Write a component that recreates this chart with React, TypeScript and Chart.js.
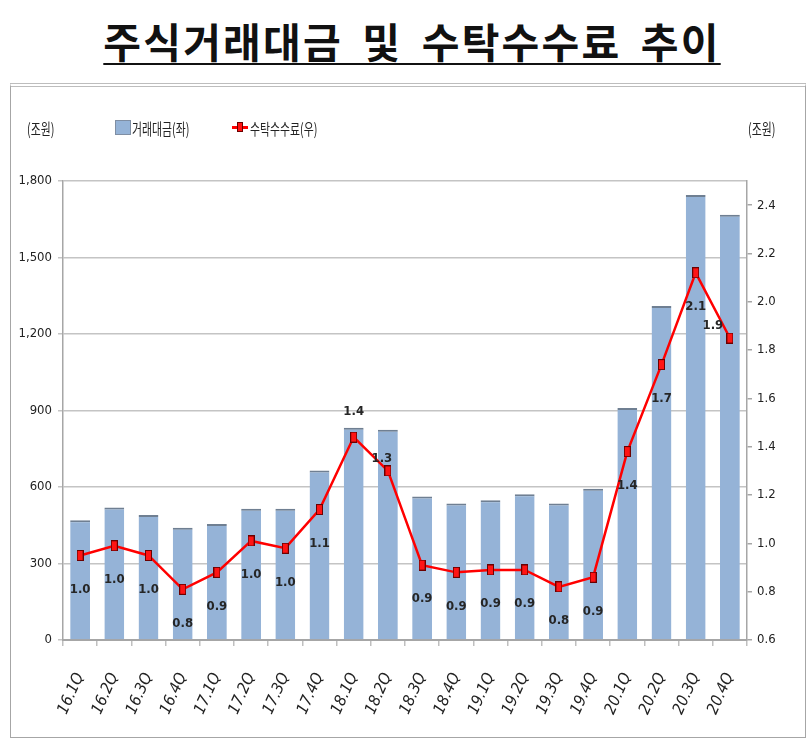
import React, { useEffect, useRef } from "react";
import { Chart, registerables } from "chart.js";

Chart.register(...registerables);

const CATEGORIES = [
  "16.1Q", "16.2Q", "16.3Q", "16.4Q", "17.1Q", "17.2Q", "17.3Q", "17.4Q",
  "18.1Q", "18.2Q", "18.3Q", "18.4Q", "19.1Q", "19.2Q", "19.3Q", "19.4Q",
  "20.1Q", "20.2Q", "20.3Q", "20.4Q",
];
const TRADING_VALUE = [
  470, 520, 490, 440, 455, 515, 515, 665, 832, 825,
  563, 535, 548, 572, 535, 593, 910, 1310, 1745, 1668,
];
const COMMISSION = [
  0.95, 0.99, 0.95, 0.81, 0.88, 1.01, 0.98, 1.14, 1.44, 1.3,
  0.91, 0.88, 0.89, 0.89, 0.82, 0.86, 1.38, 1.74, 2.12, 1.85,
];
const LEFT_TICKS = [0, 300, 600, 900, 1200, 1500, 1800];
const RIGHT_TICKS = [0.6, 0.8, 1.0, 1.2, 1.4, 1.6, 1.8, 2.0, 2.2, 2.4];

const TITLE = "주식거래대금 및 수탁수수료 추이";
const BAR_LABEL = "거래대금(좌)";
const LINE_LABEL = "수탁수수료(우)";
const UNIT = "(조원)";

const FONT = "'DejaVu Sans Condensed', 'Liberation Sans', 'Noto Sans CJK KR', sans-serif";
const KFONT = "'Noto Sans CJK KR', sans-serif";

// label offsets (dx, dy) relative to each line point
const LABEL_OFFSETS: Record<number, [number, number]> = {
  8: [0, -25],
  9: [-6, -12],
  19: [-17, -12],
};

function makeMarker(): HTMLCanvasElement {
  const c = document.createElement("canvas");
  c.width = 7;
  c.height = 11;
  const ctx = c.getContext("2d")!;
  ctx.fillStyle = "#6b0000";
  ctx.fillRect(0, 0, 7, 11);
  ctx.fillStyle = "#ff1414";
  ctx.fillRect(1, 1, 5, 9);
  return c;
}

const labelPlugin = {
  id: "lineLabels",
  afterDatasetsDraw(chart: any) {
    const meta = chart.getDatasetMeta(1);
    const ctx = chart.ctx;
    ctx.save();
    ctx.font = `bold 13px ${FONT}`;
    ctx.fillStyle = "#262626";
    ctx.textAlign = "center";
    ctx.textBaseline = "middle";
    meta.data.forEach((el: any, i: number) => {
      const v = COMMISSION[i];
      const txt = (Math.round(v * 10) / 10).toFixed(1);
      const off = LABEL_OFFSETS[i] || [0, 34];
      ctx.fillText(txt, el.x + off[0], el.y + off[1]);
    });
    ctx.restore();
  },
};

export default function App() {
  const ref = useRef<HTMLCanvasElement | null>(null);

  useEffect(() => {
    if (!ref.current) return;
    const marker = makeMarker();
    const chart = new Chart(ref.current, {
      type: "bar",
      data: {
        labels: CATEGORIES,
        datasets: [
          {
            type: "bar",
            label: BAR_LABEL,
            data: TRADING_VALUE,
            backgroundColor: "#95b3d7",
            borderColor: "#6f7f92",
            borderWidth: { top: 2, left: 0, right: 0, bottom: 0 },
            borderSkipped: false,
            categoryPercentage: 1,
            barPercentage: 0.58,
            yAxisID: "y",
            order: 1,
          },
          {
            type: "line",
            label: LINE_LABEL,
            data: COMMISSION,
            borderColor: "#ff0000",
            borderWidth: 2.5,
            pointStyle: marker,
            pointRadius: 5,
            tension: 0,
            yAxisID: "y1",
            order: 0,
          },
        ],
      },
      options: {
        responsive: false,
        devicePixelRatio: 1,
        animation: false,
        layout: { padding: { top: 95, left: 0, right: 0, bottom: 0 } },
        plugins: {
          legend: { display: false },
          tooltip: { enabled: false },
          title: { display: false },
        },
        scales: {
          x: {
            grid: {
              offset: true,
              drawOnChartArea: false,
              drawTicks: true,
              tickLength: 6,
              color: "#bfbfbf",
              lineWidth: 1.5,
            },
            border: { color: "#a6a6a6", width: 2 },
            ticks: {
              autoSkip: false,
              minRotation: 66,
              maxRotation: 66,
              padding: 24,
              color: "#222",
              font: { family: FONT, size: 16, style: "italic" },
            },
            afterFit: (s: any) => {
              s.height = 94;
            },
          },
          y: {
            position: "left",
            min: 0,
            max: 1800,
            afterBuildTicks: (s: any) => {
              s.ticks = LEFT_TICKS.map((v) => ({ value: v }));
            },
            grid: { color: "#c4c4c4", lineWidth: 1.5, tickLength: 5 },
            border: { color: "#a6a6a6", width: 1.5 },
            ticks: {
              padding: 6,
              color: "#222",
              font: { family: FONT, size: 13 },
              callback: (v: any) => Number(v).toLocaleString("en-US"),
            },
            afterFit: (s: any) => {
              s.width = 51;
            },
          },
          y1: {
            position: "right",
            min: 0.6,
            max: 2.5,
            afterBuildTicks: (s: any) => {
              s.ticks = RIGHT_TICKS.map((v) => ({ value: v }));
            },
            grid: { drawOnChartArea: false, color: "#a6a6a6", lineWidth: 1.5, tickLength: 5 },
            border: { color: "#a6a6a6", width: 1.5 },
            ticks: {
              padding: 5,
              color: "#222",
              font: { family: FONT, size: 13 },
              callback: (v: any) => Number(v).toFixed(1),
            },
            afterFit: (s: any) => {
              s.width = 57;
            },
          },
        },
      },
      plugins: [labelPlugin],
    } as any);
    return () => chart.destroy();
  }, []);

  const unitStyle: React.CSSProperties = {
    position: "absolute",
    top: 117,
    fontFamily: KFONT,
    fontSize: 16,
    color: "#222",
    transform: "scaleX(0.68)",
    transformOrigin: "left center",
    whiteSpace: "nowrap",
    lineHeight: "22px",
  };

  return (
    <div
      style={{
        position: "absolute",
        left: 0,
        top: 0,
        width: 808,
        height: 738,
        background: "#fff",
        overflow: "hidden",
      }}
    >
      <div
        style={{
          position: "absolute",
          left: 8,
          top: 12,
          width: 808,
          textAlign: "center",
          fontFamily: KFONT,
          fontWeight: 700,
          fontSize: 41,
          lineHeight: "56px",
          color: "#111",
          letterSpacing: 2.2,
          wordSpacing: 8,
        }}
      >
        <span
          style={{
            textDecoration: "underline",
            textDecorationThickness: "2px",
            textUnderlineOffset: "5px",
          }}
        >
          {TITLE}
        </span>
      </div>
      <div
        style={{
          position: "absolute",
          left: 10,
          top: 83,
          width: 794,
          height: 650,
          borderLeft: "1.5px solid #a6a6a6",
          borderRight: "1.5px solid #a6a6a6",
          borderBottom: "2px solid #a6a6a6",
          borderTop: "4px double #bdbdbd",
        }}
      />
      <canvas
        ref={ref}
        width={792}
        height={648}
        style={{ position: "absolute", left: 12, top: 86, width: 792, height: 648 }}
      />
      <span style={{ ...unitStyle, left: 27 }}>{UNIT}</span>
      <span style={{ ...unitStyle, left: 748 }}>{UNIT}</span>
      <span
        style={{
          position: "absolute",
          left: 115,
          top: 120,
          width: 16,
          height: 15,
          background: "#95b3d7",
          border: "1px solid #7f8ea3",
          boxSizing: "border-box",
        }}
      />
      <span style={{ ...unitStyle, left: 132 }}>{BAR_LABEL}</span>
      <span
        style={{
          position: "absolute",
          left: 232,
          top: 126,
          width: 16,
          height: 3,
          background: "#ff0000",
        }}
      />
      <span
        style={{
          position: "absolute",
          left: 237,
          top: 122,
          width: 6,
          height: 10,
          background: "#ff1414",
          border: "1px solid #6b0000",
          boxSizing: "border-box",
        }}
      />
      <span style={{ ...unitStyle, left: 250 }}>{LINE_LABEL}</span>
    </div>
  );
}
